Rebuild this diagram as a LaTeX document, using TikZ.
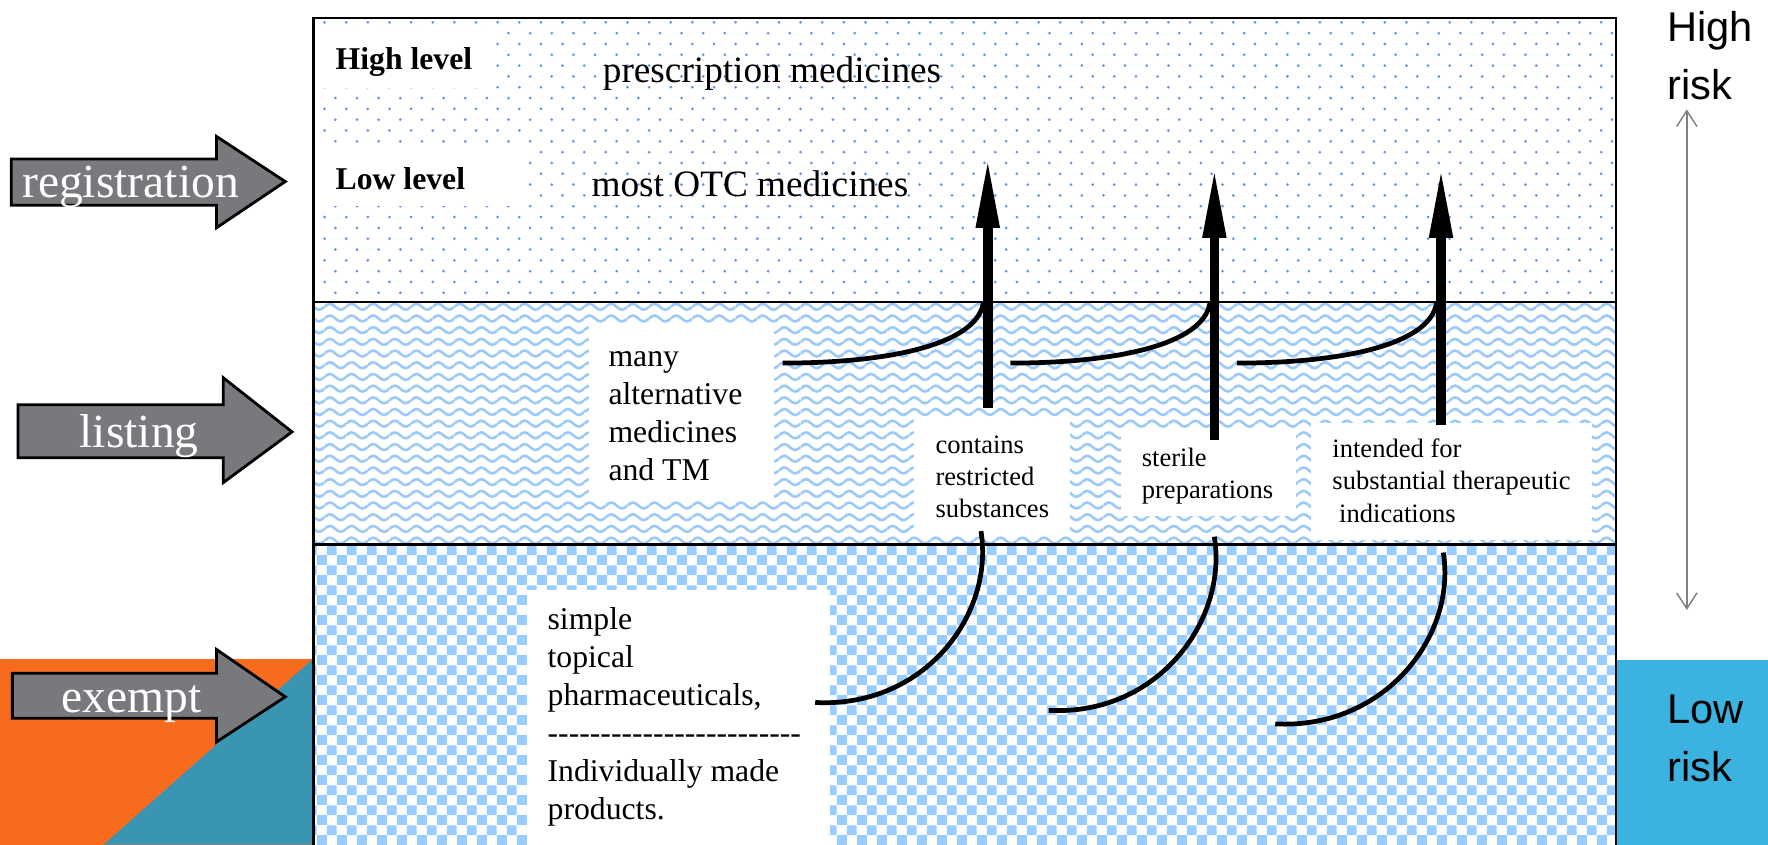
\documentclass[tikz,border=0pt]{standalone}
\usepackage{fontspec}
\setmainfont{Liberation Serif}
\newfontfamily\riskfont{Liberation Sans}
\usetikzlibrary{arrows.meta}
\usetikzlibrary{patterns}

\definecolor{slideorange}{RGB}{246,107,30}
\definecolor{slideteal}{RGB}{57,149,178}
\definecolor{slideblue}{RGB}{59,178,223}
\definecolor{arrowgray}{RGB}{120,121,125}
\definecolor{dotblue}{RGB}{100,145,240}
\definecolor{waveblue}{RGB}{155,202,250}
\definecolor{checkblue}{RGB}{153,204,255}

% fills of the three bands
\pgfdeclarepatternformonly{bluedots}{\pgfqpoint{-0.5pt}{-0.5pt}}{\pgfqpoint{3.3pt}{3.3pt}}{\pgfqpoint{5.46pt}{5.46pt}}{
  \pgfpathcircle{\pgfqpoint{0pt}{0pt}}{0.38pt}
  \pgfpathcircle{\pgfqpoint{2.73pt}{2.73pt}}{0.38pt}
  \pgfusepath{fill}}
\pgfdeclarepatternformonly{bluewaves}{\pgfqpoint{0pt}{-1.2pt}}{\pgfqpoint{5.46pt}{1.2pt}}{\pgfqpoint{5.46pt}{2.95pt}}{
  \pgfsetlinewidth{0.65pt}
  \pgfpathmoveto{\pgfqpoint{0pt}{0pt}}
  \pgfpathsine{\pgfqpoint{1.365pt}{0.75pt}}
  \pgfpathcosine{\pgfqpoint{1.365pt}{-0.75pt}}
  \pgfpathsine{\pgfqpoint{1.365pt}{-0.75pt}}
  \pgfpathcosine{\pgfqpoint{1.365pt}{0.75pt}}
  \pgfusepath{stroke}}
\pgfdeclarepatternformonly{bluecheck}{\pgfqpoint{0pt}{0pt}}{\pgfqpoint{5pt}{5pt}}{\pgfqpoint{5pt}{5pt}}{
  \pgfpathrectangle{\pgfqpoint{0pt}{0pt}}{\pgfqpoint{2.5pt}{2.5pt}}
  \pgfpathrectangle{\pgfqpoint{2.5pt}{2.5pt}}{\pgfqpoint{2.5pt}{2.5pt}}
  \pgfusepath{fill}}

\newcommand{\dashline}{\foreach \dashidx in {1,...,24}{-\kern0pt}}

\tikzset{
  levelarrow/.style={draw=black, line width=0.25mm, fill=arrowgray},
  arrowword/.style={text=white, font=\fontsize{12}{14}\selectfont, anchor=base west, inner sep=0pt},
  levelname/.style={font=\bfseries\fontsize{8}{9.6}\selectfont, anchor=base west, inner sep=0pt},
  classname/.style={font=\fontsize{9.4}{11}\selectfont, anchor=base west, inner sep=0pt},
  whitebox/.style={fill=white, inner sep=0pt, outer sep=0pt, anchor=north west},
  boxtext/.style={font=\fontsize{8}{9.6}\selectfont, align=left, anchor=base west, inner sep=0pt},
  smalltext/.style={font=\fontsize{6.7}{8.1}\selectfont, align=left, anchor=base west, inner sep=0pt},
  risktext/.style={font=\riskfont\fontsize{10.5}{14.5}\selectfont, align=left, anchor=base west, inner sep=0pt},
  uparrow/.style={line width=0.85mm, -{Triangle[length=6.3mm,width=1.9mm]}},
  hook/.style={line width=0.42mm},
  riskarrow/.style={draw=gray, line width=0.13mm, {Straight Barb[length=1.4mm,width=1.8mm]}-{Straight Barb[length=1.4mm,width=1.8mm]}},
}

\begin{document}
\begin{tikzpicture}[x=0.1mm,y=-0.1mm]
  \useasboundingbox (0,0) rectangle (1568,749);

  % slide corners
  \fill[slideorange] (0,584) rectangle (278,749);
  \fill[slideteal] (92,749) -- (278,584) -- (278,749) -- cycle;
  \fill[slideblue] (1434,585) rectangle (1568,749);

  % bands
  \fill[white] (278,16) rectangle (1433,749);
  \fill[pattern=bluedots, pattern color=dotblue] (278,16) rectangle (1433,268);
  \fill[pattern=bluewaves, pattern color=waveblue] (278,268) rectangle (1433,483);
  \fill[pattern=bluecheck, pattern color=checkblue] (278,483) rectangle (1433,749);

  \node[whitebox, minimum width=15.8mm, minimum height=5mm] (hibox) at (280,28) {};
  \node[whitebox, minimum width=18.8mm, minimum height=5mm] (lobox) at (280,133) {};
  \node[whitebox, minimum width=16.4mm, minimum height=15.5mm] (altbox) at (522,288) {};
  \node[whitebox, minimum width=13.8mm, minimum height=10.4mm] (restbox) at (811,370) {};
  \node[whitebox, minimum width=15.5mm, minimum height=7.7mm] (sterbox) at (994,381) {};
  \node[whitebox, minimum width=24.9mm, minimum height=10.4mm] (intbox) at (1163,375) {};
  \node[whitebox, minimum width=26.9mm, minimum height=22.6mm] (topbox) at (467,523) {};

  \draw[line width=0.2mm] (278,749) -- (278,16) -- (1433,16) -- (1433,749);
  \draw[line width=0.2mm] (278,268) -- (1433,268);
  \draw[line width=0.2mm] (278,483) -- (1433,483);

  % gray arrows on the left
  \draw[levelarrow] (10,141) -- (192,141) -- (192,121) -- (253,161) -- (192,202) -- (192,182) -- (10,182) -- cycle;
  \draw[levelarrow] (16,359) -- (198,359) -- (198,335) -- (259,383) -- (198,428) -- (198,406) -- (16,406) -- cycle;
  \draw[levelarrow] (11,597) -- (192,597) -- (192,576) -- (253,618) -- (192,658) -- (192,637) -- (11,637) -- cycle;
  \node[arrowword] (regword) at (19,175) {registration};
  \node[arrowword] (listword) at (70,397) {listing};
  \node[arrowword] (exword) at (54,632) {exempt};

  % texts (multi-line ones sit on their last baseline)
  \node[levelname] (hilevel) at (297,62) {High level};
  \node[levelname] (lolevel) at (297,168) {Low level};
  \node[classname] (rxmed) at (534,73) {prescription medicines};
  \node[classname] (otcmed) at (524,174) {most OTC medicines};
  \node[boxtext] (alttext) at (539,426) {many\\alternative\\medicines\\and TM};
  \node[smalltext] (resttext) at (829,459) {contains\\restricted\\substances};
  \node[smalltext] (stertext) at (1012,442) {sterile\\preparations};
  \node[smalltext] (inttext) at (1181,463) {intended for\\substantial therapeutic\\\hspace*{0.6mm}indications};
  \node[boxtext] (toptext) at (485,727) {simple\\topical\\pharmaceuticals,\\\dashline\\Individually made\\products.};
  \node[risktext] (highrisk) at (1478,88) {High\\risk};
  \node[risktext] (lowrisk) at (1478,693) {Low\\risk};

  % hooks and upward arrows
  \coordinate (hookA) at (694,322);
  \coordinate (meetA) at (872,269);
  \coordinate (hookB) at (896,322);
  \coordinate (meetB) at (1073,269);
  \coordinate (hookC) at (1097,322);
  \coordinate (meetC) at (1274,269);
  \draw[hook] (hookA) .. controls +(96,0) and +(-6,36) .. (meetA);
  \draw[hook] (hookB) .. controls +(96,0) and +(-6,36) .. (meetB);
  \draw[hook] (hookC) .. controls +(96,0) and +(-6,36) .. (meetC);

  \coordinate (dropA) at (870,471);
  \coordinate (endA) at (723,623);
  \coordinate (dropB) at (1077,476);
  \coordinate (endB) at (930,630);
  \coordinate (dropC) at (1280,490);
  \coordinate (endC) at (1131,642);
  \draw[hook] (dropA) .. controls +(12,74) and +(97,5) .. (endA);
  \draw[hook] (dropB) .. controls +(12,74) and +(97,5) .. (endB);
  \draw[hook] (dropC) .. controls +(12,74) and +(97,5) .. (endC);

  \coordinate (baseA) at (876,362);
  \coordinate (tipA) at (876,139);
  \coordinate (baseB) at (1077,390);
  \coordinate (tipB) at (1077,148);
  \coordinate (baseC) at (1278,377);
  \coordinate (tipC) at (1278,148);
  \draw[uparrow] (baseA) -- (tipA);
  \draw[uparrow] (baseB) -- (tipB);
  \draw[uparrow] (baseC) -- (tipC);

  \coordinate (risktop) at (1496,97);
  \coordinate (riskbottom) at (1496,541);
  \draw[riskarrow] (risktop) -- (riskbottom);
\end{tikzpicture}
\end{document}
